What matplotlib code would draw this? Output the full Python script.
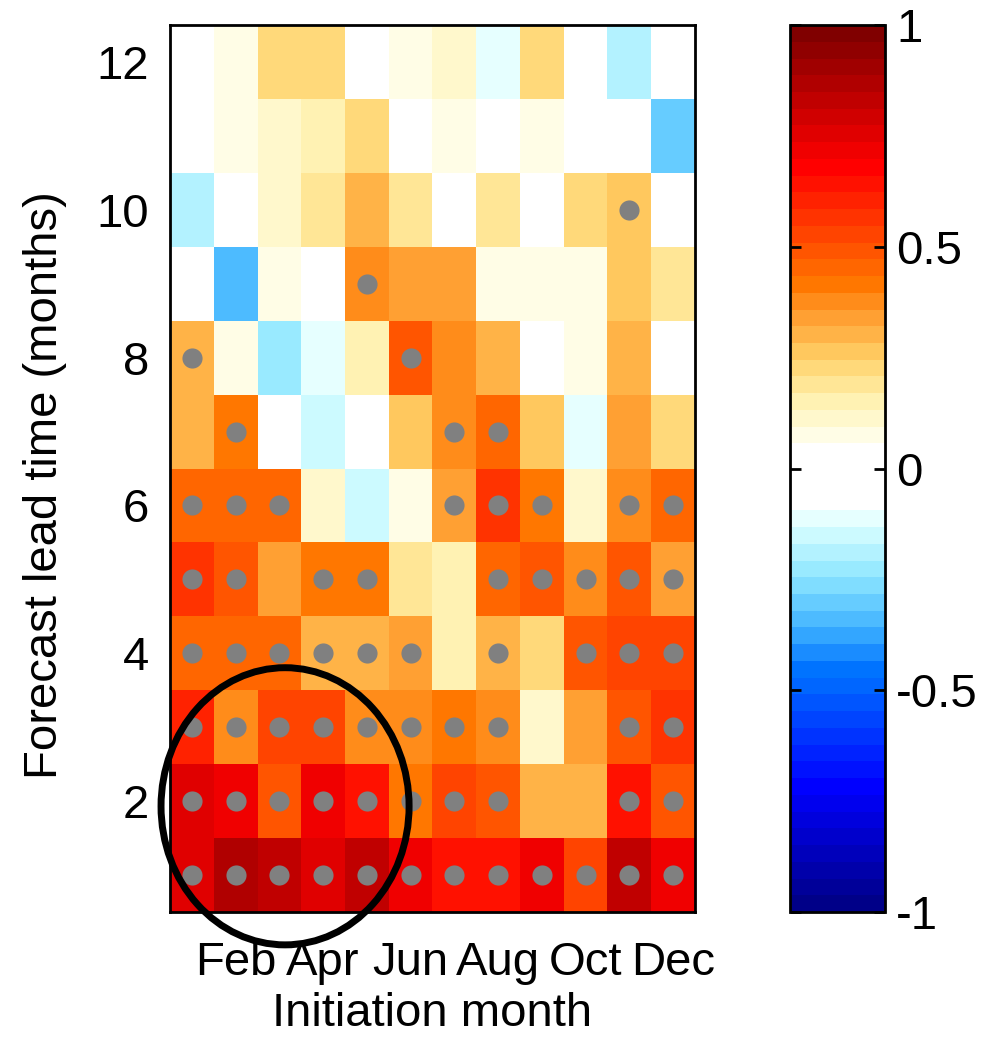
import numpy as np
import matplotlib
matplotlib.use("Agg")
import matplotlib.pyplot as plt
from matplotlib.colors import ListedColormap
from matplotlib.patches import Ellipse

plt.rcParams["font.family"] = ["Liberation Sans Narrow", "Liberation Sans", "DejaVu Sans"]

months = ["Jan", "Feb", "Mar", "Apr", "May", "Jun",
          "Jul", "Aug", "Sep", "Oct", "Nov", "Dec"]
leads = np.arange(1, 13)

# correlation skill, one row per lead time (1 -> 12), columns Jan..Dec
lead01 = [0.75, 0.87, 0.83, 0.75, 0.83, 0.72, 0.64, 0.64, 0.72, 0.53, 0.83, 0.72]
lead02 = [0.75, 0.72, 0.49, 0.72, 0.64, 0.42, 0.53, 0.49, 0.30, 0.30, 0.64, 0.49]
lead03 = [0.60, 0.38, 0.53, 0.53, 0.38, 0.38, 0.42, 0.38, 0.11, 0.34, 0.49, 0.57]
lead04 = [0.45, 0.45, 0.45, 0.30, 0.30, 0.34, 0.15, 0.30, 0.23, 0.49, 0.53, 0.53]
lead05 = [0.57, 0.49, 0.34, 0.42, 0.42, 0.19, 0.15, 0.45, 0.49, 0.38, 0.49, 0.34]
lead06 = [0.45, 0.45, 0.45, 0.11, -0.15, 0.08, 0.34, 0.57, 0.42, 0.11, 0.38, 0.45]
lead07 = [0.30, 0.42, 0.02, -0.15, -0.03, 0.26, 0.38, 0.45, 0.26, -0.11, 0.34, 0.23]
lead08 = [0.30, 0.08, -0.23, -0.11, 0.15, 0.49, 0.38, 0.30, 0.01, 0.08, 0.30, -0.02]
lead09 = [-0.04, -0.34, 0.08, 0.03, 0.38, 0.34, 0.34, 0.08, 0.08, 0.08, 0.26, 0.19]
lead10 = [-0.19, 0.00, 0.11, 0.19, 0.30, 0.19, -0.02, 0.19, 0.04, 0.23, 0.26, 0.01]
lead11 = [0.02, 0.08, 0.11, 0.15, 0.23, -0.01, 0.08, 0.03, 0.08, 0.00, -0.05, -0.30]
lead12 = [0.03, 0.08, 0.23, 0.23, -0.02, 0.08, 0.11, -0.11, 0.23, 0.01, -0.19, 0.04]

# significant cells (1 = dot drawn), same layout
sig01 = [1, 1, 1, 1, 1, 1, 1, 1, 1, 1, 1, 1]
sig02 = [1, 1, 1, 1, 1, 1, 1, 1, 0, 0, 1, 1]
sig03 = [1, 1, 1, 1, 1, 1, 1, 1, 0, 0, 1, 1]
sig04 = [1, 1, 1, 1, 1, 1, 0, 1, 0, 1, 1, 1]
sig05 = [1, 1, 0, 1, 1, 0, 0, 1, 1, 1, 1, 1]
sig06 = [1, 1, 1, 0, 0, 0, 1, 1, 1, 0, 1, 1]
sig07 = [0, 1, 0, 0, 0, 0, 1, 1, 0, 0, 0, 0]
sig08 = [1, 0, 0, 0, 0, 1, 0, 0, 0, 0, 0, 0]
sig09 = [0, 0, 0, 0, 1, 0, 0, 0, 0, 0, 0, 0]
sig10 = [0, 0, 0, 0, 0, 0, 0, 0, 0, 0, 1, 0]
sig11 = [0] * 12
sig12 = [0] * 12

skill = np.array([lead01, lead02, lead03, lead04, lead05, lead06,
                  lead07, lead08, lead09, lead10, lead11, lead12])
signif = np.array([sig01, sig02, sig03, sig04, sig05, sig06,
                   sig07, sig08, sig09, sig10, sig11, sig12], dtype=bool)

# 53-step blue-white-red map: 24 blues, 4 whites, 25 yellows/reds
blues = ["#000088", "#000099", "#0000aa", "#0000bb", "#0000cc", "#0000dd",
         "#0000ee", "#0000ff", "#0011ff", "#0022ff", "#0033ff", "#0044ff",
         "#0055ff", "#0066ff", "#0073ff", "#1a8cff", "#33a6ff", "#4dbbff",
         "#66ccff", "#80ddff", "#99eaff", "#b3f2ff", "#ccfaff", "#e6ffff"]
whites = ["#ffffff"] * 4
reds = ["#fffde6", "#fff8cc", "#fff2b3", "#ffe696", "#ffd97a", "#ffc85e",
        "#ffb347", "#ffa033", "#ff8c1a", "#ff7700", "#ff6600", "#ff5500",
        "#ff4400", "#ff3300", "#ff2200", "#ff1100", "#ff0000", "#f00000",
        "#e00000", "#d00000", "#c00000", "#b00000", "#a00000", "#900000",
        "#800000"]
cmap = ListedColormap(blues + whites + reds)

fig = plt.figure(figsize=(9.89, 10.48), dpi=100)
ax = fig.add_axes([0.1719, 0.1298, 0.5308, 0.8463])
cax = fig.add_axes([0.7988, 0.1298, 0.0960, 0.8463])

mesh = ax.pcolormesh(np.arange(0.5, 13), np.arange(0.5, 13), skill,
                     cmap=cmap, vmin=-1, vmax=1)

xx, yy = np.meshgrid(np.arange(1, 13), leads)
ax.plot(xx[signif], yy[signif], "o", color="#808080", ms=14.5, mec="none")

ax.add_patch(Ellipse((3.13, 1.93), 5.67, 3.75, fill=False, ec="black",
                     lw=5, clip_on=False, zorder=5))

ax.set_xlim(0.5, 12.5)
ax.set_ylim(0.5, 12.5)
ax.set_xticks(np.arange(2, 13, 2))
ax.set_xticklabels(months[1::2])
ax.set_yticks(np.arange(2, 13, 2))
ax.tick_params(length=0, labelsize=34)
ax.tick_params(axis="x", pad=21)
ax.tick_params(axis="y", pad=15)
for s in ax.spines.values():
    s.set_linewidth(2)

fig.text(45 / 989, 1 - 485 / 1048, "Forecast lead time (months)", rotation=90,
         ha="center", va="center", fontsize=34)
fig.text(432 / 989, 1 - 1014 / 1048, "Initiation month",
         ha="center", va="center", fontsize=34)

cb = fig.colorbar(mesh, cax=cax, ticks=[-1, -0.5, 0, 0.5, 1])
cb.ax.set_yticklabels(["-1", "-0.5", "0", "0.5", "1"])
cb.ax.tick_params(direction="in", left=True, right=True, length=8, width=2,
                  labelsize=34, pad=8)
cb.outline.set_linewidth(2)

fig.savefig("out.png", dpi=100)
